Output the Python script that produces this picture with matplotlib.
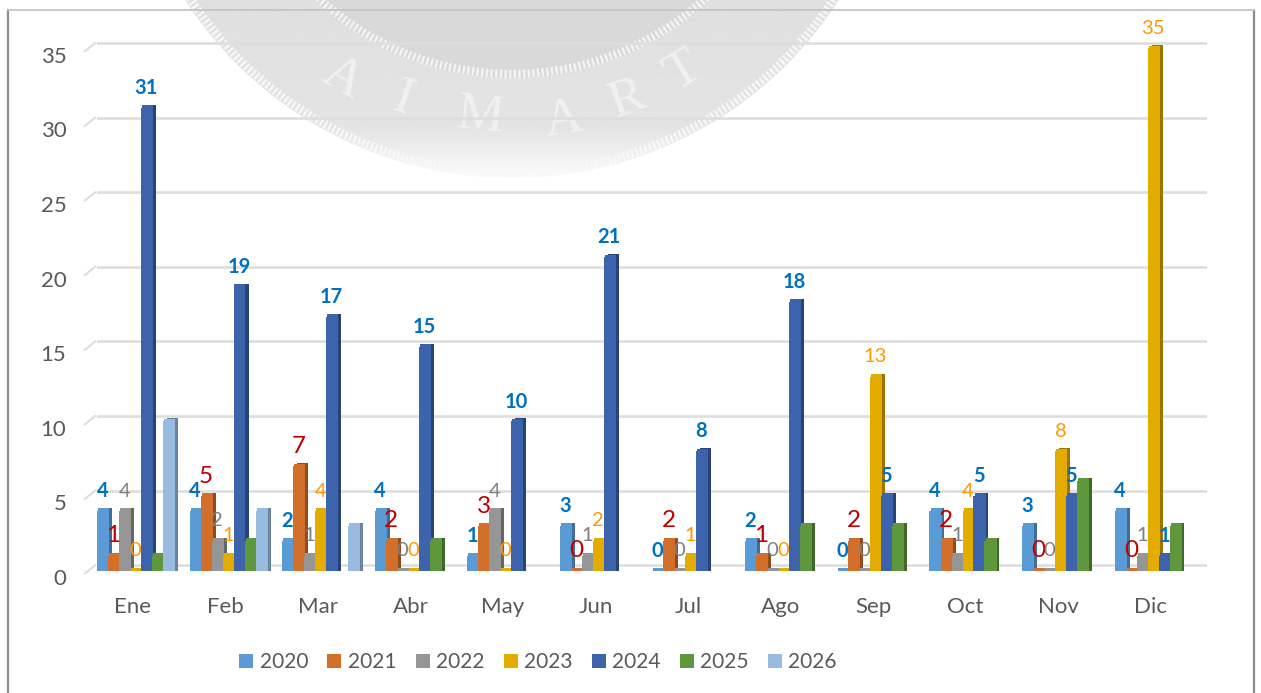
import numpy as np
import matplotlib
matplotlib.use('Agg')
import matplotlib.pyplot as plt
from matplotlib.patches import Circle
from matplotlib.transforms import ScaledTranslation

plt.rcParams['font.family'] = ['Lato', 'DejaVu Sans']

# data
meses = ['Ene', 'Feb', 'Mar', 'Abr', 'May', 'Jun', 'Jul', 'Ago', 'Sep', 'Oct', 'Nov', 'Dic']
nan = np.nan
v2020 = [4, 4, 2, 4, 1, 3, 0, 2, 0, 4, 3, 4]
v2021 = [1, 5, 7, 2, 3, 0, 2, 1, 2, 2, 0, 0]
v2022 = [4, 2, 1, 0, 4, 1, 0, 0, 0, 1, 0, 1]
v2023 = [0, 1, 4, 0, 0, 2, 1, 0, 13, 4, 8, 35]
v2024 = [31, 19, 17, 15, 10, 21, 8, 18, 5, 5, 5, 1]
v2025 = [1, 2, nan, 2, nan, nan, nan, 3, 3, 2, 6, 3]
v2026 = [10, 4, 3, nan, nan, nan, nan, nan, nan, nan, nan, nan]
anios = ['2020', '2021', '2022', '2023', '2024', '2025', '2026']
series = [v2020, v2021, v2022, v2023, v2024, v2025, v2026]
yticks = [0, 5, 10, 15, 20, 25, 30, 35]

colores = ['#5B9BD5', '#D2702B', '#969696', '#E3AC00', '#3C63AC', '#5F973D', '#9ABBE0']
lados = ['#3F6E9C', '#8F4C1D', '#666666', '#9B7500', '#284475', '#41672A', '#6B84A0']
# label style per series, the last two have no labels
etiquetas = [('#0070C0', 14.5, 'bold'), ('#C00000', 17.5, 'normal'), ('#7F7F7F', 14.5, 'normal'),
             ('#FF9900', 14.5, 'normal'), ('#0070C0', 14.5, 'bold'), None, None]

W, H = 1261, 693
fig = plt.figure(figsize=(W / 100, H / 100), dpi=100, facecolor='white')

# background: frame and seal, in pixel coordinates
bg = fig.add_axes([0, 0, 1, 1], zorder=0)
bg.axis('off')
cx, cy = 512, -211
grad = np.interp(np.linspace(0, 178, 256), [0, 130, 178], [0.875, 0.895, 0.985]).reshape(-1, 1)
im = bg.imshow(grad, extent=(100, 920, 178, 0), cmap='gray', vmin=0, vmax=1, aspect='auto', zorder=1)
im.set_clip_path(Circle((cx, cy), 389, transform=bg.transData))
bg.set_xlim(0, W)
bg.set_ylim(H, 0)
bg.add_patch(Circle((cx, cy), 384, fill=False, ec='#f8f8f8', lw=6, ls=(0, (0.28, 0.28)), zorder=2))
bg.add_patch(Circle((cx, cy), 289, fc='#d9d9d9', ec='none', zorder=2))
bg.add_patch(Circle((cx, cy), 285, fill=False, ec='#f4f4f4', lw=6, ls=(0, (0.28, 0.28)), zorder=3))
for letra, lx, ly, rot in [('A', 343, 78, -30), ('I', 403, 100, -19), ('M', 480, 117, -6),
                           ('A', 563, 120, 9), ('R', 628, 100, 20), ('T', 683, 72, 31)]:
    bg.text(lx, ly, letra, family='Liberation Serif', fontsize=38, color='#f1f1f1',
            rotation=rot, ha='center', va='center', zorder=4)
bg.plot([8, 8], [10, H], color='#8c8c8c', lw=1.6, zorder=5)
bg.plot([1254, 1254], [10, H], color='#8c8c8c', lw=1.6, zorder=5)
bg.plot([8, 1254], [10, 10], color='#c4c4c4', lw=1.3, zorder=5)

# main axes
px_x0, px_dx, px_y0, px_dy = 133, 92.5, 570.5, 14.92
ax = fig.add_axes([97 / W, 1 - px_y0 / H, (1207 - 97) / W, (px_y0 - 20) / H], zorder=1)
ax.patch.set_alpha(0)
ax.set_xlim((97 - px_x0) / px_dx, (1207 - px_x0) / px_dx)
ax.set_ylim(0, (px_y0 - 20) / px_dy)
for s in ax.spines.values():
    s.set_visible(False)

x = np.arange(len(meses))
w = 11 / px_dx
centro = 2.5 / px_dx
prof = 4 / px_dx
gris = '#dedede'

# gridlines sit on the back wall with a short slanted floor stub
lift = 0.35
ax.hlines(np.array(yticks) + lift, (95 - px_x0) / px_dx, (1207 - px_x0) / px_dx, color=gris, lw=1.9, zorder=1)
for yt in yticks:
    ax.plot([(85 - px_x0) / px_dx, (95 - px_x0) / px_dx], [yt - 0.2, yt + lift], color=gris, lw=1.5,
            zorder=1, clip_on=False)

for j, vals in enumerate(series):
    vals = np.array(vals, dtype=float)
    pos = x + centro + (j - 3) * w
    ax.bar(pos + prof, vals + 0.2, width=w, color=lados[j], zorder=2 + j * 3)
    ax.bar(pos + prof / 4, vals + 0.17, width=w, color=colores[j], zorder=3 + j * 3)
    ax.bar(pos, vals, width=w, color=colores[j], zorder=4 + j * 3, label=anios[j])
    if etiquetas[j] is None:
        continue
    color, size, weight = etiquetas[j]
    for xi, v in zip(pos, vals):
        ax.annotate('%d' % v, (xi, v), xytext=(0, 14.2), textcoords='offset points', ha='center', va='center',
                    color=color, fontsize=size, fontweight=weight, zorder=40)

ax.set_xticks(x)
ax.set_xticklabels(meses)
ax.set_yticks(yticks)
ax.tick_params(axis='x', length=0, pad=19.3, labelsize=16, labelcolor='#595959')
ax.tick_params(axis='y', length=0, pad=22, labelsize=16, labelcolor='#595959')
despl = ScaledTranslation(0, -6.5 / 100, fig.dpi_scale_trans)
for t in ax.get_yticklabels():
    t.set_transform(t.get_transform() + despl)

ax.legend(loc='center', bbox_to_anchor=(538 / W, 1 - 662 / H), bbox_transform=fig.transFigure, ncol=7,
          frameon=False, fontsize=15, labelcolor='#595959', handlelength=0.67, handleheight=0.67,
          handletextpad=0.3, columnspacing=0.93, borderpad=0, borderaxespad=0)

fig.savefig('out.png', dpi=100)
